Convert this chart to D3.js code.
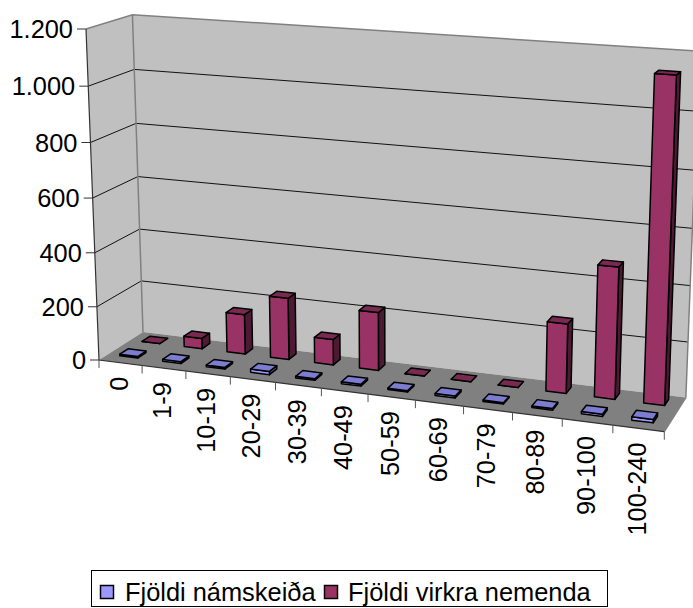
<!DOCTYPE html>
<html><head><meta charset="utf-8">
<script src="https://cdn.jsdelivr.net/npm/d3@7"></script>
<style>html,body{margin:0;padding:0;background:#fff;overflow:hidden}svg{display:block}text{font-family:"Liberation Sans",Arial,sans-serif;fill:#000}</style>
</head><body><svg id="c" width="693" height="608"></svg>
<script>
const categories=["0","1-9","10-19","20-29","30-39","40-49","50-59","60-69","70-79","80-89","90-100","100-240"];
const seriesNames=["Fjöldi námskeiða","Fjöldi virkra nemenda"];
const courses=[6,7,6,12,6,7,5,7,5,6,8,12];
const students=[0,40,150,230,95,215,0,0,0,250,470,1135];
const yTicks=[0,200,400,600,800,1000,1200];
const colors={front:["#9999FF","#993366"],top:["#7C7CD0","#7A2952"],side:["#4D4D80","#4D1933"]};

// perspective frame of the chart box, fractions of the box → screen
const O=[99,360],PU=[664.3,431.7],PV=[143,332],PH=[86,29];
const wu=-0.092,wv=0.045,wh=-0.042;
const axisU=[0,1].map(i=>(1+wu)*PU[i]-O[i]),axisV=[0,1].map(i=>(1+wv)*PV[i]-O[i]),axisH=[0,1].map(i=>(1+wh)*PH[i]-O[i]);
function proj(u,v,h){const w=1+wu*u+wv*v+wh*h;return [0,1].map(i=>(O[i]+u*axisU[i]+v*axisV[i]+h*axisH[i])/w);}

const xBand=d3.scaleBand().domain(categories).range([0,1]);
const yS=d3.scaleLinear().domain([0,1200]).range([0,1]);
const depthCenters=d3.scalePoint().domain(seriesNames).range([0.29,0.80]);
const barW=0.42,barD=0.19,barShift=-0.012,fontPx=25.4;

const svg=d3.select("#c");
const line=d3.line();
const poly=(g,pts,fill,stroke,sw)=>g.append("path").attr("d",line(pts)+"Z").attr("fill",fill).attr("stroke",stroke||"none").attr("stroke-width",sw||0).attr("stroke-linejoin","round");

// walls and floor
const g=svg.append("g");
poly(g,[proj(0,0,0),proj(0,1,0),proj(0,1,1),proj(0,0,1)],"#C0C0C0");
poly(g,[proj(0,1,0),proj(1,1,0),proj(1,1,1),proj(0,1,1)],"#C0C0C0");
poly(g,[proj(0,0,0),proj(1,0,0),proj(1,1,0),proj(0,1,0)],"#808080");

// gridlines
yTicks.slice(1,-1).forEach(t=>{const h=yS(t);
  g.append("path").attr("d",line([proj(0,0,h),proj(0,1,h),proj(1,1,h)])).attr("fill","none").attr("stroke","#111").attr("stroke-width",1);});
// wall edges
[[proj(0,0,1),proj(0,1,1),proj(1,1,1)],[proj(0,1,0),proj(0,1,1)],[proj(1,1,0),proj(1,1,1)],[proj(1,1,0),proj(1,0,0)]].forEach(p=>
  g.append("path").attr("d",line(p)).attr("fill","none").attr("stroke","#808080").attr("stroke-width",1.5));
// axes lines
g.append("path").attr("d",line([proj(0,0,1),proj(0,0,0),proj(1,0,0)])).attr("fill","none").attr("stroke","#333").attr("stroke-width",1.2);

// y ticks and labels
yTicks.forEach(t=>{const p=proj(0,0,yS(t));
  g.append("line").attr("x1",p[0]-9).attr("x2",p[0]).attr("y1",p[1]).attr("y2",p[1]).attr("stroke","#333");
  g.append("text").attr("x",p[0]-13).attr("y",p[1]).attr("dy","0.36em").attr("text-anchor","end").attr("font-size",fontPx).text(d3.format(",")(t).replace(/,/g,"."));
});
// x ticks and labels
d3.range(13).forEach(i=>{const p=proj(i/12,0,0);
  g.append("line").attr("x1",p[0]).attr("x2",p[0]).attr("y1",p[1]).attr("y2",p[1]+8).attr("stroke","#555");});
categories.forEach(c=>{const p=proj(xBand(c)+xBand.bandwidth()/2,0,0);
  g.append("text").attr("transform",`translate(${p[0]-2},${p[1]+14}) rotate(-90)`).attr("dy","0.36em").attr("text-anchor","end").attr("font-size",fontPx).text(c);
});

// bars, back row first
function bar(cat,s,val,si){
  const c=xBand(cat)+xBand.bandwidth()*(0.5+barShift),b=xBand.bandwidth()*barW/2,d=depthCenters(s);
  const u0=c-b,u1=c+b,v0=d-barD/2,v1=d+barD/2,h=yS(val);
  poly(g,[proj(u1,v0,0),proj(u1,v1,0),proj(u1,v1,h),proj(u1,v0,h)],colors.side[si],"#000",1.5);
  poly(g,[proj(u0,v0,0),proj(u1,v0,0),proj(u1,v0,h),proj(u0,v0,h)],colors.front[si],"#000",1.5);
  poly(g,[proj(u0,v0,h),proj(u1,v0,h),proj(u1,v1,h),proj(u0,v1,h)],colors.top[si],"#000",1.5);
}
categories.forEach((c,i)=>bar(c,seriesNames[1],students[i],1));
categories.forEach((c,i)=>bar(c,seriesNames[0],courses[i],0));

// legend
const lg=svg.append("g");
lg.append("rect").attr("x",91.5).attr("y",570.5).attr("width",516).attr("height",36).attr("fill","#fff").attr("stroke","#000");
const lx=[[100,125],[324,348]];
seriesNames.forEach((s,i)=>{
  lg.append("rect").attr("x",lx[i][0]+.5).attr("y",585.5).attr("width",13).attr("height",13).attr("fill",colors.front[i]).attr("stroke","#000").attr("stroke-width",1.5);
  lg.append("text").attr("x",lx[i][1]).attr("y",592).attr("dy","0.36em").attr("font-size",fontPx).text(s);
});
</script></body></html>
